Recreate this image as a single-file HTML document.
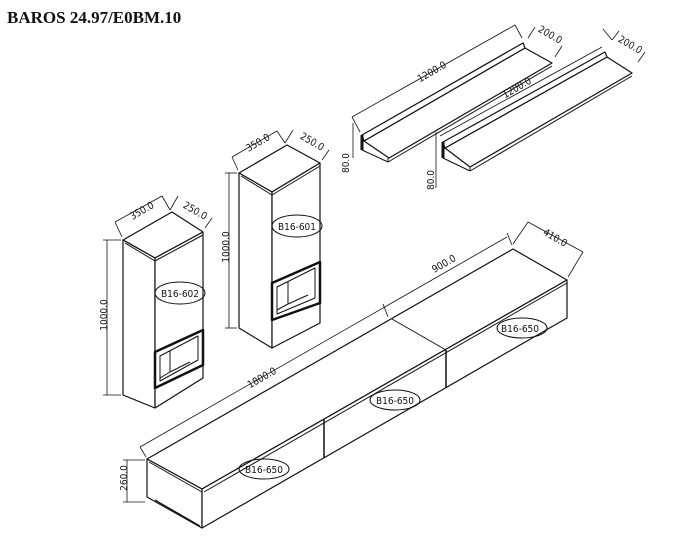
<!DOCTYPE html>
<html><head><meta charset="utf-8"><style>
html,body{margin:0;padding:0;background:#fff;}
svg{display:block;}
text{font-family:"DejaVu Sans Condensed","DejaVu Sans","Liberation Sans",sans-serif;font-size:10px;fill:#111;}
.t{font-family:"Liberation Serif",serif;font-weight:bold;font-size:17px;}
</style></head><body>
<svg width="674" height="544" viewBox="0 0 674 544" xmlns="http://www.w3.org/2000/svg">
<text class="t" x="7" y="23">BAROS 24.97/E0BM.10</text>
<g fill="none" stroke="#111" stroke-width="1" stroke-linejoin="round">
<polygon points="147,459 513,249 567,280 202,489" fill="#fff" stroke-width="1.2"/>
<polygon points="147,459 202,489 202,528 147,497" fill="#fff" stroke-width="1.2"/>
<polygon points="202,489 567,280 567,318 202,528" fill="#fff" stroke-width="1.2"/>
<line x1="149" y1="462" x2="202" y2="492"/>
<line x1="204" y1="492" x2="567" y2="283"/>
<line x1="324" y1="419" x2="324" y2="458" stroke-width="1.5"/>
<line x1="446" y1="350" x2="446" y2="388" stroke-width="1.5"/>
<line x1="446" y1="350" x2="392" y2="319"/>
<line x1="155" y1="500" x2="200" y2="526" stroke-width="1.2"/>
<line x1="140" y1="447" x2="383" y2="308" stroke-width="0.8"/>
<line x1="383" y1="308" x2="507" y2="237" stroke-width="0.8"/>
<line x1="140" y1="447" x2="146" y2="457" stroke-width="0.8"/>
<line x1="383" y1="304" x2="388" y2="317" stroke-width="0.8"/>
<line x1="507" y1="233" x2="512" y2="245" stroke-width="0.8"/>
<line x1="513" y1="244" x2="528" y2="222" stroke-width="0.8"/>
<line x1="528" y1="222" x2="583" y2="252" stroke-width="0.8"/>
<line x1="583" y1="252" x2="568" y2="277" stroke-width="0.8"/>
<line x1="127" y1="460" x2="127" y2="502" stroke-width="0.8"/>
<line x1="123" y1="460" x2="145" y2="460" stroke-width="0.8"/>
<line x1="123" y1="502" x2="145" y2="502" stroke-width="0.8"/>
<ellipse cx="264" cy="469" rx="25" ry="10"/>
<ellipse cx="395" cy="400" rx="25" ry="10"/>
<ellipse cx="522" cy="328" rx="25" ry="10"/>

<polygon points="123,240 172,212 203,232 155,258" fill="#fff" stroke-width="1.2"/>
<polygon points="123,240 155,258 155,408 123,395" fill="#fff" stroke-width="1.2"/>
<polygon points="155,258 203,232 203,378 155,408" fill="#fff" stroke-width="1.2"/>
<line x1="125" y1="243" x2="155" y2="261"/><line x1="155" y1="261" x2="203" y2="235"/>
<polygon points="155,352 203,330 203,365 155,388" stroke-width="2.5"/>
<polygon points="160,356 198,336 198,360 160,381" stroke-width="1"/>
<line x1="170" y1="350" x2="170" y2="372"/><line x1="170" y1="372" x2="160" y2="378"/><line x1="170" y1="372" x2="190" y2="362"/>
<ellipse cx="180" cy="293" rx="25" ry="11"/>
<line x1="107" y1="240" x2="107" y2="395" stroke-width="0.8"/>
<line x1="103" y1="240" x2="121" y2="240" stroke-width="0.8"/>
<line x1="103" y1="395" x2="121" y2="395" stroke-width="0.8"/>
<line x1="115" y1="222" x2="162" y2="196" stroke-width="0.8"/>
<line x1="115" y1="222" x2="122" y2="237" stroke-width="0.8"/>
<line x1="162" y1="196" x2="170" y2="210" stroke-width="0.8"/>
<line x1="170" y1="210" x2="178" y2="196" stroke-width="0.8"/>
<line x1="205" y1="228" x2="212" y2="218" stroke-width="0.8"/>

<polygon points="239,173 287,145 320,163 272,192" fill="#fff" stroke-width="1.2"/>
<polygon points="239,173 272,192 272,348 239,328" fill="#fff" stroke-width="1.2"/>
<polygon points="272,192 320,163 320,323 272,348" fill="#fff" stroke-width="1.2"/>
<line x1="241" y1="176" x2="272" y2="195"/><line x1="272" y1="195" x2="320" y2="166"/>
<polygon points="272,283 320,262 320,303 272,320" stroke-width="2.5"/>
<polygon points="277,287 315,268 315,298 277,314" stroke-width="1"/>
<line x1="288" y1="282" x2="288" y2="304"/><line x1="288" y1="304" x2="277" y2="310"/><line x1="288" y1="304" x2="308" y2="295"/>
<ellipse cx="297" cy="226" rx="25" ry="11"/>
<line x1="229" y1="173" x2="229" y2="328" stroke-width="0.8"/>
<line x1="225" y1="173" x2="237" y2="173" stroke-width="0.8"/>
<line x1="225" y1="328" x2="237" y2="328" stroke-width="0.8"/>
<line x1="232" y1="157" x2="277" y2="131" stroke-width="0.8"/>
<line x1="232" y1="157" x2="238" y2="170" stroke-width="0.8"/>
<line x1="277" y1="131" x2="285" y2="143" stroke-width="0.8"/>
<line x1="285" y1="143" x2="293" y2="130" stroke-width="0.8"/>
<line x1="322" y1="160" x2="329" y2="150" stroke-width="0.8"/>

<polygon points="364,141 525,48 552,63 389,158" fill="#fff" stroke-width="1.2"/>
<polygon points="362,135 523,43 525,48 364,141" fill="#fff" stroke-width="1.2"/>
<line x1="362" y1="135" x2="362" y2="150" stroke-width="3"/>
<line x1="362" y1="150" x2="388" y2="162" stroke-width="1"/>
<line x1="388" y1="158" x2="388" y2="162"/><line x1="388" y1="162" x2="552" y2="66"/>
<line x1="352" y1="117" x2="515" y2="25" stroke-width="0.8"/>
<line x1="352" y1="117" x2="360" y2="132" stroke-width="0.8"/>
<line x1="515" y1="25" x2="522" y2="38" stroke-width="0.8"/>
<line x1="528" y1="38" x2="535" y2="27" stroke-width="0.8"/>
<line x1="555" y1="57" x2="562" y2="46" stroke-width="0.8"/>
<line x1="353" y1="123" x2="353" y2="158" stroke-width="0.8"/>
<polygon points="445,148 607,57 632,73 470,167" fill="#fff" stroke-width="1.2"/>
<polygon points="443,142 605,52 607,57 445,148" fill="#fff" stroke-width="1.2"/>
<line x1="443" y1="142" x2="443" y2="158" stroke-width="3"/>
<line x1="443" y1="158" x2="470" y2="171"/>
<line x1="470" y1="167" x2="470" y2="171"/><line x1="470" y1="171" x2="632" y2="76"/>
<line x1="440" y1="136" x2="602" y2="47" stroke-width="0.8"/>
<line x1="603" y1="29" x2="612" y2="40" stroke-width="0.8"/>
<line x1="612" y1="40" x2="619" y2="31" stroke-width="0.8"/>
<line x1="638" y1="62" x2="645" y2="52" stroke-width="0.8"/>
<line x1="436" y1="132" x2="436" y2="188" stroke-width="0.8"/>
</g>
<text x="262" y="381" transform="rotate(-30 262 378)" text-anchor="middle">1800.0</text>
<text x="444" y="267" transform="rotate(-30 444 264)" text-anchor="middle">900.0</text>
<text x="555" y="241" transform="rotate(30 555 238)" text-anchor="middle">410.0</text>
<text x="130" y="481" transform="rotate(-90 127 481)" text-anchor="middle">260.0</text>
<text x="264" y="473" text-anchor="middle">B16-650</text>
<text x="395" y="404" text-anchor="middle">B16-650</text>
<text x="520" y="332" text-anchor="middle">B16-650</text>
<text x="180" y="297" text-anchor="middle">B16-602</text>
<text x="297" y="230" text-anchor="middle">B16-601</text>
<text x="110" y="318" transform="rotate(-90 107 318)" text-anchor="middle">1000.0</text>
<text x="232" y="250" transform="rotate(-90 229 250)" text-anchor="middle">1000.0</text>
<text x="142" y="214" transform="rotate(-30 142 211)" text-anchor="middle">350.0</text>
<text x="195" y="214" transform="rotate(30 195 211)" text-anchor="middle">250.0</text>
<text x="258" y="146" transform="rotate(-30 258 143)" text-anchor="middle">350.0</text>
<text x="312" y="145" transform="rotate(30 312 142)" text-anchor="middle">250.0</text>
<text x="432" y="75" transform="rotate(-30 432 72)" text-anchor="middle">1200.0</text>
<text x="517" y="91" transform="rotate(-30 517 88)" text-anchor="middle">1200.0</text>
<text x="550" y="38" transform="rotate(30 550 35)" text-anchor="middle">200.0</text>
<text x="630" y="48" transform="rotate(30 630 45)" text-anchor="middle">200.0</text>
<text x="352" y="166" transform="rotate(-90 349 166)" text-anchor="middle">80.0</text>
<text x="437" y="183" transform="rotate(-90 434 183)" text-anchor="middle">80.0</text>
</svg>
</body></html>
